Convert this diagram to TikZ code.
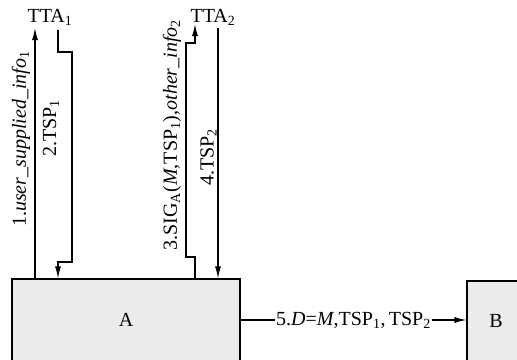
\documentclass[tikz,border=0pt]{standalone}
\usepackage{fontspec}
\setmainfont{Liberation Serif}
\usetikzlibrary{arrows.meta}
\begin{document}
\begin{tikzpicture}[x=1pt,y=-1pt,
  box/.style={draw, line width=1.1pt, fill=black!8, inner sep=0pt},
  wire/.style={line width=1.1pt},
  arr/.style={wire, -{Latex[length=12pt,width=6pt]}},
  lbl/.style={inner sep=0pt},
  every node/.style={font=\fontsize{20}{23}\selectfont}]
\useasboundingbox (0,0) rectangle (517,359);
\clip (0,0) rectangle (517,359);
\node[box, minimum width=228pt, minimum height=82pt] (A) at (126,320) {A};
\node[box, minimum width=58pt, minimum height=80pt] (B) at (496,321) {B};
\node[lbl, anchor=base] (TTA1) at (50,22) {TTA\textsubscript{1}};
\node[lbl, anchor=base] (TTA2) at (213,22) {TTA\textsubscript{2}};
\coordinate (t1) at (35,28);
\coordinate (s2) at (58,30);
\coordinate (t3) at (195,24);
\coordinate (s4) at (218,28);
\draw[arr] (A.north -| t1) -- (t1);
\draw[arr] (s2) -- (58,52) -- (72,52) -- (72,262) -- (58,262) -- (A.north -| s2);
\draw[arr] (A.north -| t3) -- (195,257) -- (186,257) -- (186,43) -- (195,43) -- (t3);
\draw[arr] (s4) -- (A.north -| s4);
\node[lbl, rotate=90] (L1) at (21,139) {1.\textit{user\_supplied\_info}\textsubscript{1}};
\node[lbl, rotate=90] (L2) at (51,128) {2.TSP\textsubscript{1}};
\node[lbl, rotate=90] (L3) at (172,135) {3.SIG\textsubscript{A}(\textit{M},TSP\textsubscript{1}),\textit{other\_info}\textsubscript{2}};
\node[lbl, rotate=90] (L4) at (208.5,157) {4.TSP\textsubscript{2}};
\draw[arr] (A.east) -- node[fill=white, inner sep=1.5pt] (L5) {5.\textit{D}=\textit{M},TSP\textsubscript{1},\,TSP\textsubscript{2}} (A.east -| B.west);
\end{tikzpicture}
\end{document}
